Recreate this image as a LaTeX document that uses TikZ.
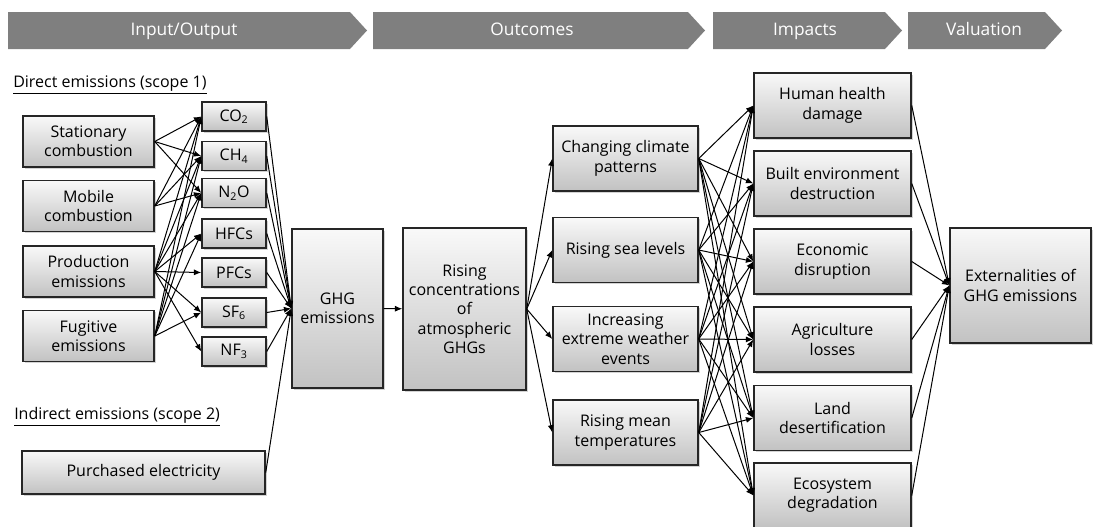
\documentclass[tikz,border=0pt]{standalone}
\usepackage{fontspec}
\setmainfont{Open Sans}
\usetikzlibrary{arrows.meta,shadows}
\definecolor{hdrgray}{RGB}{127,127,127}

\tikzset{
    box/.style={draw=black!85, line width=1.1pt, top color=gray!5, bottom color=gray!48,
        drop shadow={opacity=0.35, shadow xshift=1.2pt, shadow yshift=-1.2pt},
        align=center, inner sep=1pt, font=\fontsize{12}{14.5}\selectfont},
    srcbox/.style={box, minimum width=98.25pt, minimum height=38.25pt},
    gasbox/.style={box, minimum width=48pt, minimum height=21.75pt},
    outbox/.style={box, minimum width=108.75pt, minimum height=48.75pt},
    impbox/.style={box, minimum width=117.75pt, minimum height=48.75pt},
    arr/.style={-{Latex[length=5.5pt,width=4.5pt]}, line width=0.75pt},
    hdrtext/.style={text=white, text height=9.5pt, text depth=3pt, inner sep=0pt,
        font=\fontsize{13}{15}\selectfont},
    title/.style={anchor=west, inner sep=0pt, font=\fontsize{12}{14}\selectfont}
}

\begin{document}
\begin{tikzpicture}[x=0.75pt, y=-0.75pt]
    \useasboundingbox (0,0) rectangle (1102,526);
    \clip (0,0) rectangle (1102,526);

    % Header chevrons
    \fill[hdrgray] (8,12) -- (350,12) -- (367,30.5) -- (350,49) -- (8,49) -- cycle;
    \fill[hdrgray] (373,12) -- (688,12) -- (705,30.5) -- (688,49) -- (373,49) -- cycle;
    \fill[hdrgray] (713,12) -- (885,12) -- (902,30.5) -- (885,49) -- (713,49) -- cycle;
    \fill[hdrgray] (908,12) -- (1045,12) -- (1062,30.5) -- (1045,49) -- (908,49) -- cycle;
    \node[hdrtext] (h1) at (184,31) {Input/Output};
    \node[hdrtext] (h2) at (532,31) {Outcomes};
    \node[hdrtext] (h3) at (805,31) {Impacts};
    \node[hdrtext] (h4) at (984,31) {Valuation};

    % Scope titles
    \node[title] (scope1) at (13,85) {\underline{Direct emissions (scope 1)}};
    \node[title] (scope2) at (14,417) {\underline{Indirect emissions (scope 2)}};

    % Sources
    \node[srcbox] (st) at (88.5,141.5) {Stationary\\combustion};
    \node[srcbox] (mo) at (88.5,206) {Mobile\\combustion};
    \node[srcbox] (pr) at (88.5,271.5) {Production\\emissions};
    \node[srcbox] (fu) at (88.5,336) {Fugitive\\emissions};
    \node[box, minimum width=182.25pt, minimum height=32.25pt] (pe) at (143.5,472.5) {Purchased electricity};

    % Gases
    \node[gasbox] (co2) at (234,116.5) {CO\textsubscript{2}};
    \node[gasbox] (ch4) at (234,156) {CH\textsubscript{4}};
    \node[gasbox] (n2o) at (234,193) {N\textsubscript{2}O};
    \node[gasbox] (hfc) at (234,233.5) {HFCs};
    \node[gasbox] (pfc) at (234,272.5) {PFCs};
    \node[gasbox] (sf6) at (234,312.5) {SF\textsubscript{6}};
    \node[gasbox] (nf3) at (234,351.5) {NF\textsubscript{3}};

    \node[box, minimum width=68.25pt, minimum height=119.25pt] (ghg) at (337.5,308.5) {GHG\\emissions};
    \node[box, minimum width=92.25pt, minimum height=121.5pt] (rc) at (464.5,309) {Rising\\concentrations\\of\\atmospheric\\GHGs};

    % Outcomes
    \node[outbox] (o1) at (625.5,158.5) {Changing climate\\patterns};
    \node[outbox] (o2) at (625.5,250) {Rising sea levels};
    \node[outbox] (o3) at (625.5,339) {Increasing\\extreme weather\\events};
    \node[outbox] (o4) at (625.5,432.5) {Rising mean\\temperatures};

    % Impacts
    \node[impbox] (i1) at (832.5,105.5) {Human health\\damage};
    \node[impbox] (i2) at (832.5,183.5) {Built environment\\destruction};
    \node[impbox] (i3) at (832.5,261.5) {Economic\\disruption};
    \node[impbox] (i4) at (832.5,339.5) {Agriculture\\losses};
    \node[impbox] (i5) at (832.5,418) {Land\\desertification};
    \node[impbox] (i6) at (832.5,495.5) {Ecosystem\\degradation};

    \node[box, minimum width=105.75pt, minimum height=86.25pt] (ext) at (1020.5,285.5) {Externalities of\\GHG emissions};

    % Sources to gases
    \foreach \g in {co2,ch4,n2o} {
        \draw[arr] (st.east) -- (\g.west);
        \draw[arr] (mo.east) -- (\g.west);
    }
    \foreach \g in {co2,ch4,n2o,hfc,pfc,sf6,nf3}
        \draw[arr] (pr.east) -- (\g.west);
    \foreach \g in {co2,ch4,n2o,hfc,sf6}
        \draw[arr] (fu.east) -- (\g.west);

    % Gases to GHG emissions
    \foreach \g in {co2,ch4,n2o,hfc,pfc,sf6,nf3,pe}
        \draw[arr] (\g.east) -- (ghg.west);
    \draw[arr] (ghg) -- (rc);

    % Concentrations to outcomes to impacts
    \foreach \o in {o1,o2,o3,o4} {
        \draw[arr] (rc.east) -- (\o.west);
        \foreach \i in {i1,i2,i3,i4,i5,i6}
            \draw[arr] (\o.east) -- (\i.west);
    }

    % Impacts to valuation
    \foreach \i in {i1,i2,i3,i4,i5,i6}
        \draw[arr] (\i.east) -- (ext.west);
\end{tikzpicture}
\end{document}
